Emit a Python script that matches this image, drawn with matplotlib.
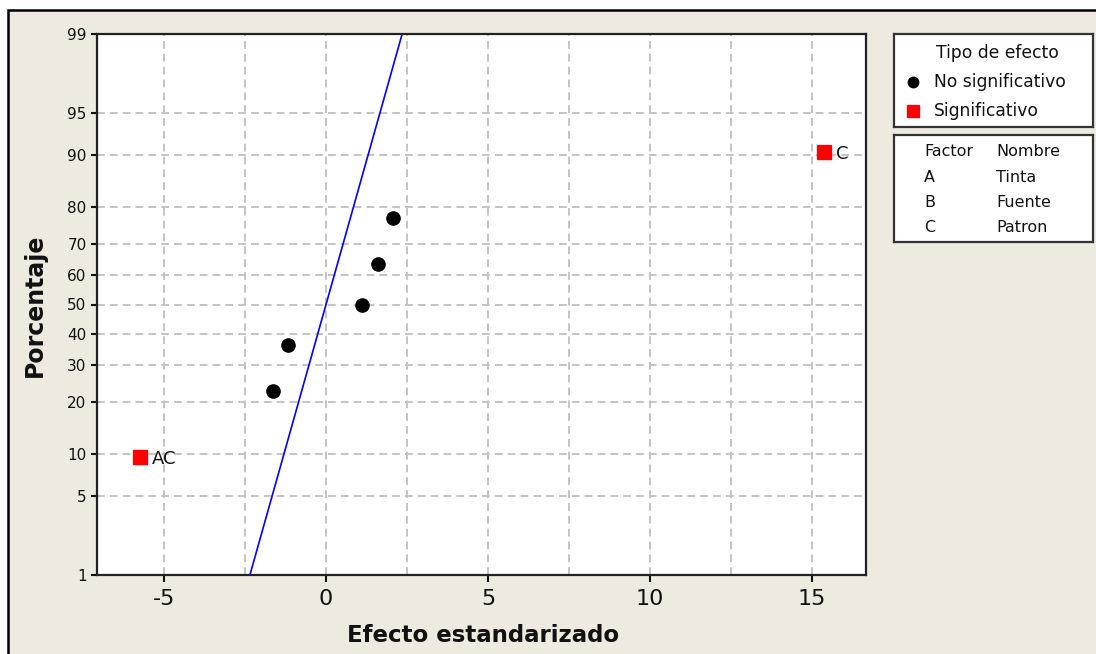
import numpy as np
import matplotlib
matplotlib.use("Agg")
import matplotlib.pyplot as plt
from matplotlib.patches import Rectangle
from statistics import NormalDist

# ---- data ----
effects = [-5.74, -1.64, -1.17, 1.11, 1.60, 2.07, 15.37]
percents = [9.46, 22.97, 36.49, 50.0, 63.51, 77.03, 90.54]
significant = [True, False, False, False, False, False, True]
point_labels = ["AC", "", "", "", "", "", "C"]

line_effect = [-2.35, 2.35]
line_pct = [1, 99]

y_ticks = [1, 5, 10, 20, 30, 40, 50, 60, 70, 80, 90, 95, 99]
x_ticks = [-5, 0, 5, 10, 15]
x_grid = [-5, -2.5, 0, 2.5, 5, 7.5, 10, 12.5, 15]

legend_title = "Tipo de efecto"
legend_entries = ["No significativo", "Significativo"]
factor_letters = ["A", "B", "C"]
factor_names = ["Tinta", "Fuente", "Patron"]

# ---- normal probability scale ----
_nd = NormalDist()
_ppf = np.vectorize(lambda p: _nd.inv_cdf(min(max(p / 100.0, 1e-9), 1 - 1e-9)),
                    otypes=[float])
_cdf = np.vectorize(lambda z: _nd.cdf(z) * 100.0, otypes=[float])


def fwd(p):
    return _ppf(np.asarray(p, dtype=float))


def inv(z):
    return _cdf(np.asarray(z, dtype=float))


W, H = 1096, 654
BG = "#EEEAE0"
TXT = "#111111"
plt.rcParams["font.family"] = ["DejaVu Sans"]

fig = plt.figure(figsize=(W / 100, H / 100), dpi=100)
fig.patch.set_facecolor("white")
fig.patches.append(Rectangle((8 / W, -0.2), 1.2, 1.2 - 10 / H + 0.0,
                             transform=fig.transFigure, facecolor=BG,
                             edgecolor="black", linewidth=1.8, zorder=-10))


def px_axes(x0, y0, x1, y1):
    return fig.add_axes([x0 / W, 1 - y1 / H, (x1 - x0) / W, (y1 - y0) / H])


ax = px_axes(97, 34, 866, 575)
ax.set_facecolor("white")
ax.set_yscale("function", functions=(fwd, inv))
ax.set_xlim(-7.07, 16.67)
ax.set_ylim(1, 99)

# grid
grid_kw = dict(color="#C4C4C4", linewidth=1.4, linestyle=(0, (4, 2.6)), zorder=0)
for gx in x_grid:
    ax.axvline(gx, **grid_kw)
for gy in y_ticks[1:-1]:
    ax.axhline(gy, **grid_kw)

# fitted line
ax.plot(line_effect, line_pct, color="#0000FF", linewidth=1.2, zorder=2)

# points
for e, p, s, lab in zip(effects, percents, significant, point_labels):
    if s:
        ax.plot(e, p, marker="s", color="#FF0000", markersize=9.5,
                linestyle="none", zorder=3)
    else:
        ax.plot(e, p, marker="o", color="black", markersize=9.5,
                linestyle="none", zorder=3)
    if lab:
        ax.annotate(lab, (e, p), xytext=(8.5, -1.5), textcoords="offset points",
                    ha="left", va="center", fontsize=13, color=TXT)

ax.set_yticks(y_ticks)
ax.set_yticklabels([str(t) for t in y_ticks])
ax.yaxis.set_minor_locator(matplotlib.ticker.NullLocator())
ax.set_xticks(x_ticks)
ax.set_xticklabels([str(t) for t in x_ticks])
ax.tick_params(axis="y", direction="out", length=4.5, width=1.5,
               labelsize=11, pad=3, colors=TXT)
ax.tick_params(axis="x", direction="out", length=5, width=1.5,
               labelsize=16, pad=5, colors=TXT)
for sp in ax.spines.values():
    sp.set_linewidth(1.6)
    sp.set_color("#222222")

fig.text(35 / W, 1 - 305 / H, "Porcentaje", rotation=90, ha="center",
         va="center", fontsize=17, fontweight="bold", color=TXT)
fig.text(483 / W, 1 - 636 / H, "Efecto estandarizado", ha="center",
         va="center", fontsize=16.5, fontweight="bold", color=TXT)

# ---- legend box 1 ----
lg = px_axes(894, 34, 1093, 127)
lg.set_xlim(0, 199)
lg.set_ylim(93, 0)
lg.set_xticks([])
lg.set_yticks([])
lg.set_facecolor("white")
for sp in lg.spines.values():
    sp.set_linewidth(1.6)
    sp.set_color("#333333")
lg.text(103, 19, legend_title, ha="center", va="center", fontsize=12.3, color=TXT)
lg.plot(19, 48, marker="o", color="black", markersize=7.5)
lg.text(40, 48, legend_entries[0], ha="left", va="center", fontsize=12.3, color=TXT)
lg.plot(19, 77, marker="s", color="#FF0000", markersize=9)
lg.text(40, 77, legend_entries[1], ha="left", va="center", fontsize=12.3, color=TXT)

# ---- legend box 2 ----
lf = px_axes(894, 135, 1093, 242)
lf.set_xlim(0, 199)
lf.set_ylim(107, 0)
lf.set_xticks([])
lf.set_yticks([])
lf.set_facecolor("white")
for sp in lf.spines.values():
    sp.set_linewidth(1.6)
    sp.set_color("#333333")
lf.text(30, 16, "Factor", ha="left", va="center", fontsize=11.5, color=TXT)
lf.text(102, 16, "Nombre", ha="left", va="center", fontsize=11.5, color=TXT)
for i, (fl, fn) in enumerate(zip(factor_letters, factor_names)):
    yy = 42 + i * 25.5
    lf.text(30, yy, fl, ha="left", va="center", fontsize=11.5, color=TXT)
    lf.text(102, yy, fn, ha="left", va="center", fontsize=11.5, color=TXT)

fig.savefig("out.png", dpi=100, facecolor=fig.get_facecolor())
